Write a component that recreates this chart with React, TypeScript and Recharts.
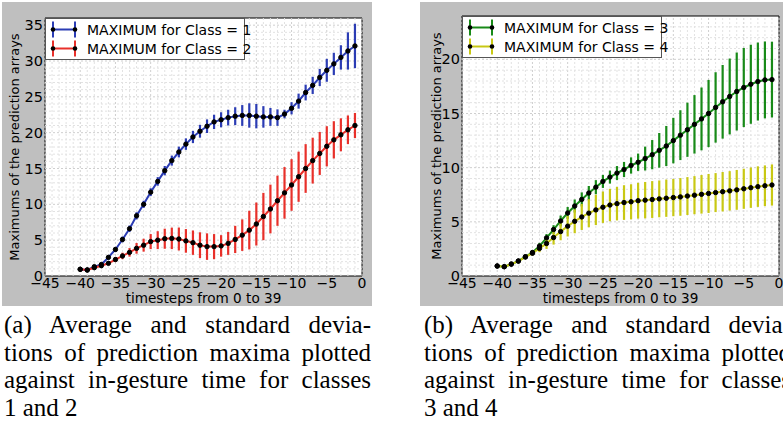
import React from "react";
import { ComposedChart, Line, ErrorBar, XAxis, YAxis, ReferenceLine, ReferenceArea, CartesianGrid } from "recharts";

// timesteps (x)
const steps = [-40, -39, -38, -37, -36, -35, -34, -33, -32, -31, -30, -29, -28, -27, -26, -25, -24, -23, -22, -21,
  -20, -19, -18, -17, -16, -15, -14, -13, -12, -11, -10, -9, -8, -7, -6, -5, -4, -3, -2, -1];

const class1Mean = [0.93, 0.84, 1.3, 1.6, 2.6, 3.7, 5.1, 6.6, 8.4, 10.0, 11.7, 13.2, 14.7, 16.1, 17.3, 18.4, 19.4, 20.2, 20.9, 21.5,
  21.8, 22.1, 22.3, 22.4, 22.4, 22.3, 22.2, 22.2, 22.1, 22.6, 23.4, 24.4, 25.6, 26.6, 27.7, 28.7, 29.6, 30.5, 31.4, 32.1];
const class1Std = [0.15, 0.15, 0.2, 0.25, 0.3, 0.35, 0.4, 0.45, 0.5, 0.5, 0.55, 0.6, 0.65, 0.7, 0.75, 0.8, 0.85, 0.9, 0.95, 1.0,
  1.05, 1.1, 1.25, 1.45, 1.7, 1.7, 1.5, 1.25, 1.15, 0.6, 0.85, 1.05, 1.1, 1.2, 1.2, 1.6, 1.55, 1.7, 2.6, 3.1];

const class2Mean = [0.93, 0.84, 1.16, 1.44, 1.77, 2.3, 2.8, 3.3, 3.86, 4.3, 4.8, 5.0, 5.2, 5.25, 5.16, 4.9, 4.65, 4.3, 4.1, 4.1,
  4.2, 4.55, 5.1, 5.7, 6.4, 7.25, 8.3, 9.35, 10.5, 11.6, 12.7, 13.85, 15.0, 16.1, 17.1, 18.1, 19.0, 19.7, 20.4, 21.0];
const class2Std = [0.1, 0.1, 0.15, 0.2, 0.25, 0.35, 0.45, 0.6, 0.75, 0.9, 1.05, 1.25, 1.4, 1.5, 1.6, 1.65, 1.7, 1.8, 1.85, 1.75,
  1.5, 1.6, 1.9, 2.2, 2.7, 3.0, 3.3, 3.4, 3.5, 3.6, 3.6, 3.5, 3.4, 3.2, 3.0, 2.8, 2.6, 2.3, 2.0, 1.75];

const class3Mean = [0.92, 0.86, 1.1, 1.38, 1.78, 2.17, 2.76, 3.52, 4.29, 5.08, 5.82, 6.46, 7.07, 7.66, 8.2, 8.73, 9.13, 9.5, 9.83, 10.2,
  10.5, 10.84, 11.2, 11.6, 12.0, 12.5, 13.0, 13.5, 14.0, 14.5, 15.0, 15.56, 16.08, 16.57, 17.03, 17.4, 17.7, 17.95, 18.1, 18.13];
const class3Std = [0.08, 0.08, 0.1, 0.12, 0.15, 0.2, 0.3, 0.35, 0.4, 0.5, 0.55, 0.6, 0.65, 0.65, 0.65, 0.6, 0.6, 0.65, 0.7, 0.75,
  0.8, 1.1, 1.35, 1.6, 1.85, 2.1, 2.3, 2.5, 2.7, 2.9, 3.1, 3.25, 3.4, 3.5, 3.6, 3.65, 3.65, 3.6, 3.55, 3.5];

const class4Mean = [0.92, 0.86, 1.1, 1.38, 1.75, 2.1, 2.55, 3.0, 3.55, 4.1, 4.6, 5.05, 5.45, 5.8, 6.1, 6.35, 6.55, 6.68, 6.78, 6.85,
  6.95, 7.0, 7.06, 7.12, 7.18, 7.24, 7.3, 7.38, 7.46, 7.54, 7.62, 7.7, 7.78, 7.86, 7.95, 8.05, 8.15, 8.25, 8.33, 8.4];
const class4Std = [0.08, 0.08, 0.1, 0.12, 0.15, 0.2, 0.35, 0.5, 0.65, 0.8, 0.95, 1.1, 1.2, 1.3, 1.4, 1.45, 1.5, 1.55, 1.6, 1.62,
  1.65, 1.68, 1.7, 1.7, 1.72, 1.72, 1.74, 1.75, 1.76, 1.78, 1.8, 1.8, 1.82, 1.82, 1.84, 1.85, 1.86, 1.87, 1.88, 1.9];

const xTicks = [-45, -40, -35, -30, -25, -20, -15, -10, -5, 0];
const xMinor = [-45, -44, -43, -42, -41, -40, -39, -38, -37, -36, -35, -34, -33, -32, -31, -30, -29, -28, -27, -26, -25, -24, -23,
  -22, -21, -20, -19, -18, -17, -16, -15, -14, -13, -12, -11, -10, -9, -8, -7, -6, -5, -4, -3, -2, -1, 0];
const yTicksA = [0, 5, 10, 15, 20, 25, 30, 35];
const yTicksB = [0, 5, 10, 15, 20];
const yMinorA = [1, 2, 3, 4, 5, 6, 7, 8, 9, 10, 11, 12, 13, 14, 15, 16, 17, 18, 19, 20, 21, 22, 23, 24, 25, 26, 27, 28, 29, 30,
  31, 32, 33, 34, 35];
const yMinorB = [1, 2, 3, 4, 5, 6, 7, 8, 9, 10, 11, 12, 13, 14, 15, 16, 17, 18, 19, 20, 21, 22, 23];

const captionA = ["(a) Average and standard devia-", "tions of prediction maxima plotted", "against in-gesture time for classes", "1 and 2"];
const captionB = ["(b) Average and standard devia-", "tions of prediction maxima plotted", "against in-gesture time for classes", "3 and 4"];

const BLUE = "#2b3cb4";
const RED = "#e8302a";
const GREEN = "#188a18";
const YELLOW = "#c8c814";
const SANS = "DejaVu Sans, sans-serif";

const rows = steps.map((t, i) => ({
  t,
  c1: class1Mean[i], e1: class1Std[i],
  c2: class2Mean[i], e2: class2Std[i],
  c3: class3Mean[i], e3: class3Std[i],
  c4: class4Mean[i], e4: class4Std[i],
}));

const dot = { r: 2.2, fill: "#000", stroke: "#000", strokeWidth: 1 };
const minus = (v: number) => String(v).replace("-", "\u2212");

function Panel(props: {
  left: number; width: number; marginTop: number; marginRight: number; yWidth: number; labelOffset: number;
  yMax: number; yTicks: number[]; yMinor: number[];
  series: { key: string; err: string; color: string }[];
}) {
  const { left, width, marginTop, marginRight, yWidth, labelOffset, yMax, yTicks, yMinor, series } = props;
  return (
    <div style={{ position: "absolute", left, top: 2, width, height: 304, background: "#bfbfbf" }}>
      <ComposedChart width={width} height={304} data={rows} margin={{ top: marginTop, right: marginRight, bottom: 0, left: 0 }}>
        <CartesianGrid fill="#fff" horizontal={false} vertical={false} />
        {xMinor.map((v) => (
          <ReferenceLine key={"vx" + v} x={v} stroke={v % 5 === 0 ? "#cfcfcf" : "#e2e2e2"} strokeDasharray="2 2" strokeWidth={1} />
        ))}
        {yMinor.map((v) => (
          <ReferenceLine key={"hy" + v} y={v} stroke={v % 5 === 0 ? "#cfcfcf" : "#e2e2e2"} strokeDasharray="2 2" strokeWidth={1} />
        ))}
        <XAxis
          type="number"
          dataKey="t"
          domain={[-45, 0]}
          ticks={xTicks}
          interval={0}
          height={30}
          tickSize={0}
          tickMargin={2}
          axisLine={false}
          tickFormatter={minus}
          tick={{ fontSize: 14, fill: "#000", fontFamily: SANS }}
          label={{ value: "timesteps from 0 to 39", position: "insideBottom", offset: 3, style: { fontSize: 13.6, fill: "#000", fontFamily: SANS } }}
        />
        <YAxis
          type="number"
          domain={[0, yMax]}
          ticks={yTicks}
          interval={0}
          width={yWidth}
          tickSize={0}
          tickMargin={2}
          axisLine={false}
          tick={{ fontSize: 14.5, fill: "#000", fontFamily: SANS }}
          label={{
            value: "Maximums of the prediction arrays",
            angle: -90,
            position: "insideLeft",
            offset: labelOffset,
            style: { textAnchor: "middle", fontSize: 13, fill: "#000", fontFamily: SANS },
          }}
        />
        {series.map((s) => (
          <Line key={s.key} type="linear" dataKey={s.key} stroke={s.color} strokeWidth={2} dot={dot} isAnimationActive={false}>
            <ErrorBar dataKey={s.err} width={0} stroke={s.color} strokeWidth={2.2} direction="y" isAnimationActive={false} />
          </Line>
        ))}
        <ReferenceArea x1={-45} x2={0} y1={0} y2={yMax} fill="none" stroke="#000" strokeWidth={1} ifOverflow="extendDomain" />
      </ComposedChart>
    </div>
  );
}

function LegendBox(props: { left: number; top: number; items: { label: string; color: string }[] }) {
  return (
    <div
      style={{
        position: "absolute", left: props.left, top: props.top, width: 200, height: 42, background: "#fff",
        border: "1px solid #555", boxSizing: "border-box", fontFamily: SANS, fontSize: 14,
      }}
    >
      {props.items.map((it, i) => (
        <div key={it.label} style={{ position: "absolute", left: 0, top: 1 + i * 19, height: 19, width: 198, display: "flex", alignItems: "center" }}>
          <svg width={40} height={19} style={{ flex: "none" }}>
            <line x1={7} y1={9.5} x2={29} y2={9.5} stroke={it.color} strokeWidth={2} />
            <line x1={7} y1={1.5} x2={7} y2={17.5} stroke={it.color} strokeWidth={2} />
            <line x1={29} y1={1.5} x2={29} y2={17.5} stroke={it.color} strokeWidth={2} />
            <circle cx={7} cy={9.5} r={2.3} fill="#000" />
            <circle cx={29} cy={9.5} r={2.3} fill="#000" />
          </svg>
          <span style={{ marginLeft: 1, whiteSpace: "nowrap" }}>{it.label}</span>
        </div>
      ))}
    </div>
  );
}

function Caption(props: { left: number; lines: string[] }) {
  return (
    <div style={{ position: "absolute", left: props.left, top: 311, width: 367, fontFamily: "Liberation Serif, serif", fontSize: 25, lineHeight: "27.7px", color: "#000" }}>
      {props.lines.map((ln, i) => (
        <div
          key={i}
          style={{
            textAlign: "justify",
            textAlignLast: i < props.lines.length - 1 ? "justify" : "left",
            whiteSpace: "nowrap",
            height: 27.7,
          } as React.CSSProperties}
        >
          {ln}
        </div>
      ))}
    </div>
  );
}

export default function App() {
  return (
    <div style={{ position: "fixed", left: 0, top: 0, width: 783, height: 430, overflow: "hidden", background: "#fff" }}>
      <Panel
        left={2} width={370} marginTop={16} marginRight={10} yWidth={43} labelOffset={12}
        yMax={36} yTicks={yTicksA} yMinor={yMinorA}
        series={[{ key: "c1", err: "e1", color: BLUE }, { key: "c2", err: "e2", color: RED }]}
      />
      <Panel
        left={420} width={370} marginTop={14} marginRight={11} yWidth={42} labelOffset={16}
        yMax={24} yTicks={yTicksB} yMinor={yMinorB}
        series={[{ key: "c3", err: "e3", color: GREEN }, { key: "c4", err: "e4", color: YELLOW }]}
      />
      <LegendBox left={45} top={18} items={[{ label: "MAXIMUM for Class = 1", color: BLUE }, { label: "MAXIMUM for Class = 2", color: RED }]} />
      <LegendBox left={462} top={16} items={[{ label: "MAXIMUM for Class = 3", color: GREEN }, { label: "MAXIMUM for Class = 4", color: YELLOW }]} />
      <Caption left={4} lines={captionA} />
      <Caption left={424} lines={captionB} />
    </div>
  );
}
